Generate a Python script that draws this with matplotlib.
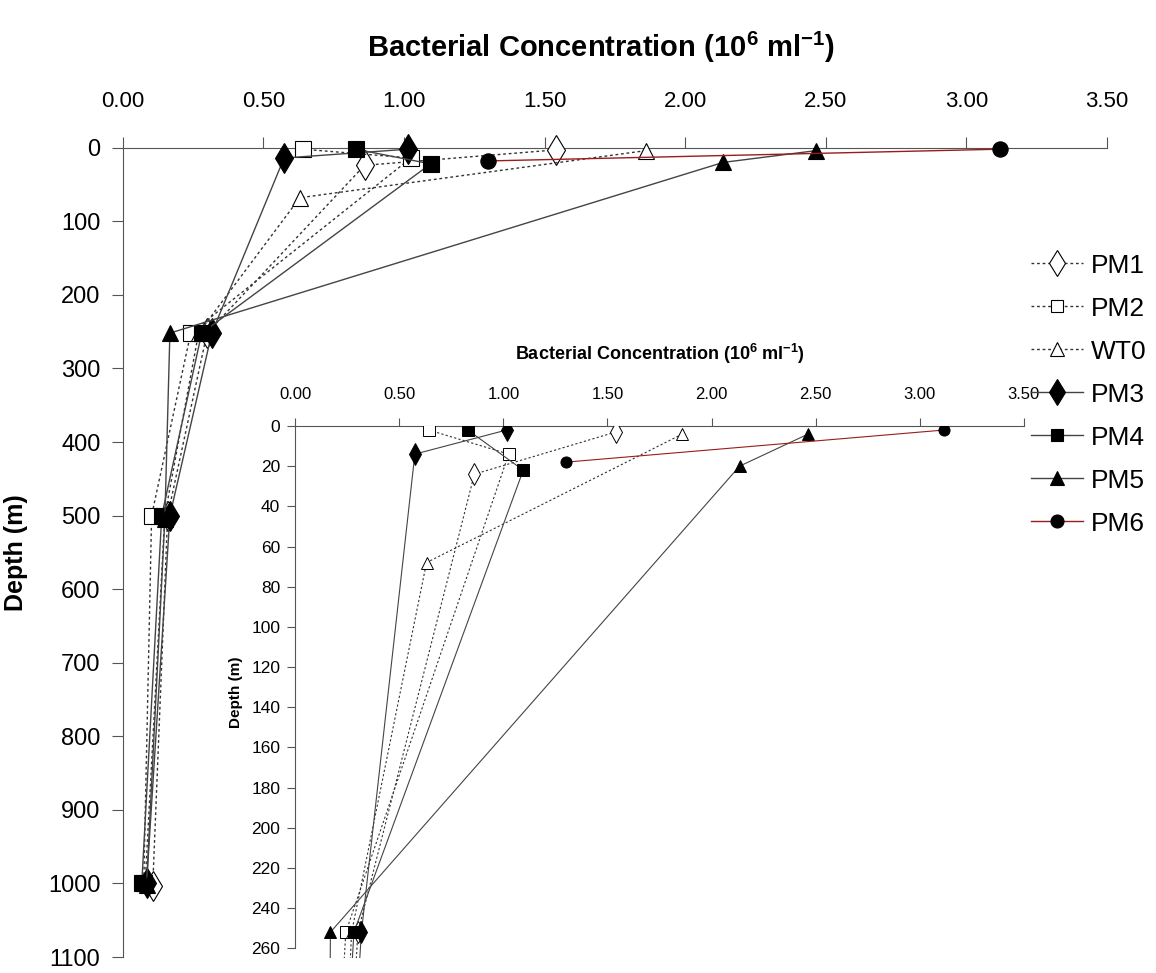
import matplotlib
matplotlib.use('Agg')
import matplotlib.pyplot as plt

# --- fonts ---
plt.rcParams['font.family'] = ['Liberation Sans', 'DejaVu Sans']
plt.rcParams['mathtext.fontset'] = 'custom'
plt.rcParams['mathtext.rm'] = 'Liberation Sans:bold'
plt.rcParams['mathtext.default'] = 'rm'

# --- data: concentration (10^6 ml^-1) vs depth (m) ---
series = ['PM1', 'PM2', 'WT0', 'PM3', 'PM4', 'PM5', 'PM6']

pm1_x = [1.54, 0.86, 0.30, 0.16, 0.107]
pm1_d = [3, 24, 252, 500, 1003]
pm2_x = [0.64, 1.025, 0.242, 0.103, 0.075]
pm2_d = [2, 14, 252, 500, 1000]
wt0_x = [1.86, 0.63, 0.27, 0.15, 0.08]
wt0_d = [4, 68, 252, 500, 1000]
pm3_x = [1.015, 0.574, 0.317, 0.168, 0.085]
pm3_d = [2, 14, 252, 500, 1000]
pm4_x = [0.828, 1.095, 0.281, 0.139, 0.068]
pm4_d = [2, 22, 252, 500, 1000]
pm5_x = [2.465, 2.135, 0.168, 0.15, 0.085]
pm5_d = [4, 20, 252, 505, 1002]
pm6_x = [3.12, 1.30]
pm6_d = [2, 18]

xs = [pm1_x, pm2_x, wt0_x, pm3_x, pm4_x, pm5_x, pm6_x]
ds = [pm1_d, pm2_d, wt0_d, pm3_d, pm4_d, pm5_d, pm6_d]

x_ticks = [0.0, 0.5, 1.0, 1.5, 2.0, 2.5, 3.0, 3.5]
main_depth_ticks = list(range(0, 1101, 100))
inset_depth_ticks = list(range(0, 261, 20))

dotted = (0, (2, 2))
styles = {
    'PM1': dict(marker='d', mfc='white', ls=dotted, color='#333333'),
    'PM2': dict(marker='s', mfc='white', ls=dotted, color='#333333'),
    'WT0': dict(marker='^', mfc='white', ls=dotted, color='#333333'),
    'PM3': dict(marker='d', mfc='black', ls='-', color='#444444'),
    'PM4': dict(marker='s', mfc='black', ls='-', color='#444444'),
    'PM5': dict(marker='^', mfc='black', ls='-', color='#444444'),
    'PM6': dict(marker='o', mfc='black', ls='-', color='#9b1c1c'),
}
main_ms = {'d': 15, 's': 11, '^': 12, 'o': 11}
inset_ms = {'d': 11, 's': 8, '^': 9, 'o': 8}

title = r'Bacterial Concentration (10$^{6}$ ml$^{-1}$)'

fig = plt.figure(figsize=(11.56, 9.73), dpi=100)

# --- main axes ---
ax = fig.add_axes([0.1061, 0.0164, 0.8515, 0.8318])
handles = []
for name, x, d in zip(series, xs, ds):
    st = styles[name]
    h, = ax.plot(x, d, marker=st['marker'], ms=main_ms[st['marker']], mfc=st['mfc'],
                 mec='black', mew=0.8, ls=st['ls'], color=st['color'], lw=1.0,
                 label=name, clip_on=False, zorder=3)
    handles.append(h)

ax.set_xlim(0, 3.5)
ax.set_ylim(1100, 0)
ax.set_xticks(x_ticks)
ax.set_xticklabels(['%.2f' % v for v in x_ticks])
ax.set_yticks(main_depth_ticks)
ax.xaxis.tick_top()
ax.spines['right'].set_visible(False)
ax.spines['bottom'].set_visible(False)
for s in ['top', 'left']:
    ax.spines[s].set_color('#555555')
ax.tick_params(axis='x', length=8, pad=18, labelsize=16, color='#555555')
ax.tick_params(axis='y', length=8, pad=8, labelsize=17, color='#555555')
ax.set_ylabel('Depth (m)', fontsize=18, fontweight='bold', labelpad=14)
fig.text(0.52, 1 - 47 / 973, title, ha='center', va='center', fontsize=21, fontweight='bold')

# --- inset axes (upper 260 m) ---
axi = fig.add_axes([0.2556, 0.0151, 0.6298, 0.5471])
for name, x, d in zip(series, xs, ds):
    st = styles[name]
    axi.plot(x, d, marker=st['marker'], ms=inset_ms[st['marker']], mfc=st['mfc'],
             mec='black', mew=0.7, ls=st['ls'], color=st['color'], lw=0.8, zorder=3)

axi.set_xlim(0, 3.5)
axi.set_ylim(265, 0)
axi.set_xticks(x_ticks)
axi.set_xticklabels(['%.2f' % v for v in x_ticks])
axi.set_yticks(inset_depth_ticks)
axi.xaxis.tick_top()
axi.spines['right'].set_visible(False)
axi.spines['bottom'].set_visible(False)
axi.spines['left'].set_bounds(0, 260)
for s in ['top', 'left']:
    axi.spines[s].set_color('#555555')
axi.tick_params(axis='x', length=6, pad=11, labelsize=12, color='#555555')
axi.tick_params(axis='y', length=6, pad=5, labelsize=12.5, color='#555555')
axi.set_ylabel('Depth (m)', fontsize=11, fontweight='bold', labelpad=6)
fig.text(0.571, 1 - 354 / 973, title, ha='center', va='center', fontsize=13, fontweight='bold')

# --- legend ---
fig.legend(handles=handles, loc='upper left', bbox_to_anchor=(1020 / 1156, 1 - 243 / 973),
           frameon=False, fontsize=19, labelspacing=0.72, handlelength=2.0, markerscale=0.85,
           handletextpad=0.3, borderaxespad=0)

fig.savefig('out.png', dpi=100)
